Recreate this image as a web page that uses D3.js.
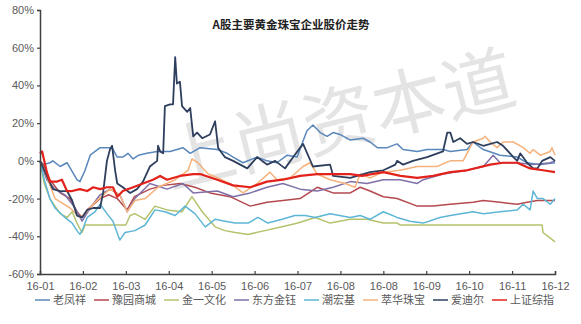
<!DOCTYPE html>
<html>
<head>
<meta charset="utf-8">
<script src="https://cdn.jsdelivr.net/npm/d3@7"></script>
<style>
  body { margin: 0; background: #fff; }
  text { font-family: "Liberation Sans", "Noto Sans CJK SC", sans-serif; }
</style>
</head>
<body>
<svg id="chart"></svg>
<script>

// month labels on the x axis (Excel put 16-08 twice)
let monthLabels = ["16-01","16-02","16-03","16-04","16-05","16-06","16-07","16-08","16-08","16-09","16-10","16-11","16-12"]
let yTicks = [-60, -40, -20, 0, 20, 40, 60, 80]

let seriesNames = ["老凤祥","豫园商城","金一文化","东方金钰","潮宏基","萃华珠宝","爱迪尔","上证综指"]
let seriesColors = ["#5a87bb","#b44a4f","#b5c26c","#7f70a8","#5db6d6","#f6b27c","#2e3f5d","#e3221c"]

// [month offset, % change]
let laofengxiang = [[0,0],[0.08,-2],[0.23,-1],[0.3,0],[0.47,-3],[0.63,-1],[0.86,-10],[0.93,-11],[1.05,-5],[1.17,3],[1.4,7],[1.56,7],[1.68,7],[1.8,2],[1.93,2],[2.05,4],[2.17,1],[2.3,3],[2.49,4],[2.73,5],[3.03,5],[3.33,7],[3.5,4],[3.73,7],[4.13,6],[4.36,4],[4.5,2],[4.73,-1],[5.06,2],[5.29,0],[5.52,-1],[5.76,3],[5.99,2],[6.22,16],[6.36,19],[6.53,15],[6.69,13],[6.83,15],[6.99,14],[7.23,11],[7.53,12],[7.69,10],[7.86,7],[8.09,7],[8.32,9],[8.46,6],[8.79,5],[9.02,6],[9.39,6],[9.56,5],[9.95,6],[10.09,10],[10.33,6],[10.72,3],[11.12,2],[11.35,-1],[11.66,-2],[12,-1]]
let yuyuan = [[0,0],[0.1,-3],[0.23,-10],[0.47,-17],[0.7,-20],[0.86,-27],[0.98,-30],[1.1,-26],[1.4,-20],[1.6,-18],[1.8,-20],[2.03,-26],[2.2,-19],[2.56,-15],[2.87,-13],[3.26,-12],[3.61,-14],[3.96,-17],[4.43,-19],[4.9,-24],[5.29,-22],[5.66,-21],[6.06,-20],[6.46,-14],[6.83,-17],[7.23,-17],[7.46,-14],[7.69,-16],[8.0,-19],[8.32,-20],[8.79,-24],[9.16,-24],[9.56,-23],[10.09,-22],[10.33,-21],[10.72,-22],[11.12,-23],[11.35,-22],[11.59,-21],[12,-21]]
let jinyi = [[0,0],[0.1,-12],[0.23,-20],[0.47,-28],[0.63,-30],[0.75,-27],[0.86,-33],[0.98,-38],[1.05,-34],[2.0,-34],[2.1,-29],[2.21,-28],[2.45,-31],[2.68,-24],[2.96,-26],[3.31,-27],[3.54,-19],[3.78,-27],[4.08,-35],[4.31,-37],[4.55,-38],[4.85,-39],[5.24,-37],[5.64,-35],[6.01,-33],[6.41,-30],[6.76,-33],[7.23,-31],[7.62,-31],[8.0,-33],[8.32,-33],[8.39,-34],[11.7,-34],[11.72,-38],[11.89,-41],[12,-43]]
let dongfang = [[0,0],[0.16,-10],[0.35,-15],[0.58,-18],[0.82,-25],[0.98,-32],[1.17,-25],[1.4,-18],[1.63,-15],[1.86,-18],[2.03,-27],[2.21,-20],[2.56,-12],[2.96,-15],[3.33,-12],[3.57,-17],[4.13,-16],[4.5,-19],[4.9,-17],[5.29,-14],[5.66,-12],[6.06,-15],[6.46,-16],[6.83,-14],[7.23,-11],[7.62,-12],[8.0,-10],[8.39,-10],[8.79,-12],[8.93,-10],[9.39,-7],[9.95,-5],[10.33,-3],[10.56,3],[10.72,-1],[11.12,-1],[11.49,-2],[11.89,-1],[12,0]]
let chaohongji = [[0,0],[0.1,-10],[0.23,-20],[0.35,-25],[0.58,-30],[0.75,-33],[0.86,-37],[0.93,-39],[1.0,-36],[1.1,-30],[1.28,-27],[1.4,-23],[1.56,-28],[1.7,-32],[1.86,-42],[1.98,-38],[2.21,-37],[2.45,-34],[2.68,-26],[2.91,-27],[3.15,-29],[3.38,-24],[3.61,-28],[3.85,-35],[4.08,-31],[4.31,-32],[4.55,-33],[4.85,-33],[5.08,-30],[5.31,-33],[5.64,-31],[5.94,-29],[6.18,-29],[6.41,-30],[6.76,-28],[7.23,-30],[7.46,-29],[7.69,-31],[8.0,-27],[8.32,-30],[8.62,-32],[8.93,-33],[9.32,-30],[9.56,-29],[10.09,-27],[10.33,-28],[10.72,-27],[11.12,-26],[11.26,-23],[11.42,-26],[11.49,-16],[11.59,-20],[11.72,-20],[11.89,-23],[12,-20]]
let cuihua = [[0,0],[0.1,-5],[0.35,-20],[0.7,-25],[0.93,-30],[1.05,-28],[1.28,-22],[1.63,-15],[1.86,-18],[2.03,-27],[2.21,-21],[2.45,-20],[2.75,-14],[3.15,-10],[3.45,-5],[3.54,1],[3.68,-1],[3.92,-7],[4.15,-9],[4.5,-13],[4.73,-17],[5.06,-12],[5.36,-6],[5.52,-10],[5.83,-9],[6.13,-3],[6.29,-1],[6.46,-7],[6.76,-10],[7.11,-12],[7.34,-14],[7.46,-7],[7.69,-9],[8.0,-6],[8.39,-5],[8.79,-3],[9.25,-3],[9.56,0],[9.86,0],[10.02,7],[10.09,10],[10.33,12],[10.37,13],[10.49,10],[10.65,7],[10.79,10],[11.03,10],[11.26,7],[11.42,4],[11.49,6],[11.66,3],[11.89,5],[11.93,7],[12,3]]
let aidier = [[0,0],[0.16,-8],[0.3,-15],[0.47,-16],[0.63,-16],[0.75,-21],[0.86,-29],[0.98,-30],[1.1,-26],[1.24,-25],[1.4,-25],[1.47,-17],[1.56,0],[1.63,6],[1.68,8],[1.75,-5],[1.8,-12],[1.93,-14],[2.1,-17],[2.26,-15],[2.4,-11],[2.56,-3],[2.73,0],[2.75,8],[2.8,5],[2.87,4],[2.91,29],[3.03,30],[3.1,30],[3.15,55],[3.19,41],[3.26,42],[3.31,29],[3.43,26],[3.5,28],[3.57,13],[3.66,15],[3.78,12],[3.96,14],[4.08,21],[4.15,7],[4.24,4],[4.31,2],[4.5,0],[4.83,-4],[5.06,2],[5.29,-2],[5.48,0],[5.71,-4],[5.9,2],[6.13,9],[6.36,-3],[6.76,-2],[6.83,-8],[7.23,-9],[7.69,-6],[8.0,-5],[8.28,-2],[8.32,0],[8.46,-2],[8.69,0],[9.02,2],[9.39,5],[9.49,15],[9.56,15],[9.63,10],[9.79,12],[9.95,9],[10.09,10],[10.33,8],[10.65,10],[10.79,8],[11.03,2],[11.12,0],[11.19,4],[11.35,-1],[11.49,-4],[11.59,-4],[11.7,0],[11.89,2],[12,0]]
let shangzheng = [[0,4],[0.05,5],[0.16,-6],[0.23,-11],[0.4,-11],[0.51,-10],[0.63,-16],[0.75,-16],[0.93,-15],[1.1,-16],[1.24,-14],[1.4,-15],[1.56,-14],[1.7,-14],[1.8,-19],[1.93,-16],[2.17,-14],[2.4,-12],[2.63,-10],[2.8,-8],[2.96,-10],[3.26,-8],[3.57,-7],[3.73,-7],[4.13,-10],[4.5,-13],[4.9,-14],[5.29,-11],[5.66,-10],[6.06,-8],[6.46,-7],[6.83,-7],[7.23,-7],[7.5,-8],[8.0,-6],[8.4,-8],[8.79,-9],[9.16,-8],[9.56,-6],[9.95,-5],[10.49,-2],[10.79,-1],[11.12,-1],[11.42,-4],[11.72,-5],[12,-6]]

let allSeries = [laofengxiang, yuyuan, jinyi, dongfang, chaohongji, cuihua, aidier, shangzheng]

let width = 581,
    height = 324,
    plotLeft = 40, plotRight = 555, plotTop = 10, plotBottom = 274

let svg = d3.select("#chart")
    .attr("width", width)
    .attr("height", height)

let x = d3.scaleLinear().domain([0, 12]).range([plotLeft, plotRight])
let y = d3.scaleLinear().domain([-60, 80]).range([plotBottom, plotTop])

// watermark
svg.append("text")
    .attr("transform", "translate(345,145) rotate(-14)")
    .attr("text-anchor", "middle")
    .style("font-size", "72px")
    .style("font-family", "'Noto Sans CJK SC'")
    .style("fill", "#e4e4e4")
    .text("上尚资本道")

svg.append("text")
    .attr("x", 291)
    .attr("y", 29)
    .attr("text-anchor", "middle")
    .style("font-size", "11.5px")
    .style("font-weight", "bold")
    .style("font-family", "'Noto Sans CJK SC'")
    .style("fill", "#222")
    .text("A股主要黄金珠宝企业股价走势")

let line = d3.line()
    .x(d => x(d[0]))
    .y(d => y(d[1]))

svg.selectAll("path.series")
    .data(allSeries)
  .enter().append("path")
    .attr("class", "series")
    .attr("d", line)
    .style("fill", "none")
    .style("stroke", (d, i) => seriesColors[i])
    .style("stroke-width", (d, i) => i == 7 ? 2.2 : (i == 6 ? 1.8 : 1.5))
    .style("stroke-linejoin", "round")

let yAxis = d3.axisLeft(y)
    .tickValues(yTicks)
    .tickSize(3)
    .tickFormat(d => d + "%")

let xAxis = d3.axisBottom(x)
    .tickValues(d3.range(13))
    .tickSize(-3)
    .tickPadding(8)
    .tickFormat(i => monthLabels[i])

let gy = svg.append("g")
    .attr("transform", "translate(" + plotLeft + ",0)")
    .call(yAxis)
let gx = svg.append("g")
    .attr("transform", "translate(0," + plotBottom + ")")
    .call(xAxis)

svg.selectAll(".domain").style("stroke", "#404040").style("stroke-width", 1.5)
svg.selectAll(".tick line").style("stroke", "#404040").style("stroke-width", 1.2)
svg.selectAll(".tick text")
    .style("font-size", "11px")
    .style("fill", "#595959")
    .style("font-family", "'Liberation Sans'")
gy.selectAll(".tick text").attr("x", -6)

// legend
let legend = svg.append("g")
let lx = 35
seriesNames.forEach(function(name, i) {
    legend.append("line")
        .attr("x1", lx).attr("x2", lx + 15)
        .attr("y1", 300).attr("y2", 300)
        .style("stroke", seriesColors[i])
        .style("stroke-width", 1.5)
    let t = legend.append("text")
        .attr("x", lx + 18)
        .attr("y", 304)
        .style("font-size", "11px")
        .style("font-family", "'Noto Sans CJK SC'")
        .style("fill", "#595959")
        .text(name)
    lx += 18 + t.node().getComputedTextLength() + 8
})

</script>
</body>
</html>
